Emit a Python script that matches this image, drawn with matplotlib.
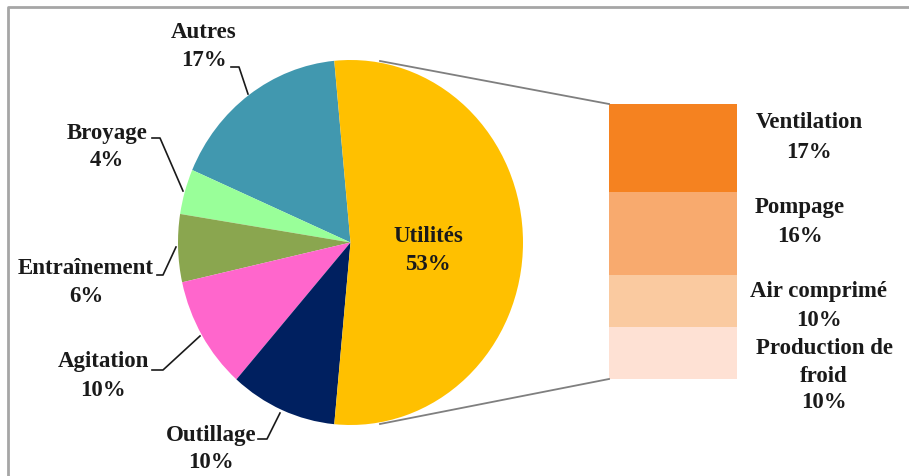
import matplotlib
matplotlib.use("Agg")
import matplotlib.pyplot as plt
import numpy as np

# ---- data ----
pie_labels = ["Utilités", "Outillage", "Agitation", "Entraînement", "Broyage", "Autres"]
pie_values = [53, 10, 10, 6, 4, 17]
pie_colors = ["#FFC000", "#002060", "#FF66CC", "#8AA64F", "#99FF99", "#4198AF"]

bar_labels = ["Ventilation", "Pompage", "Air comprimé", "Production de\nfroid"]
bar_values = [17, 16, 10, 10]
bar_colors = ["#F58220", "#F8AA6E", "#FACAA0", "#FEE1D4"]

W, H, DPI = 909, 476, 100
fig = plt.figure(figsize=(W / DPI, H / DPI), dpi=DPI)
FONT = dict(family="Liberation Serif", fontweight="bold", fontsize=16.5, color="#1a1a1a")

def fig_box(x0, y0, w, h):
    return [x0 / W, 1 - (y0 + h) / H, w / W, h / H]

# ---- pie (elliptical) ----
cx, cy, rx, ry = 350.5, 242.5, 172.5, 182.5
axp = fig.add_axes(fig_box(cx - rx, cy - ry, 2 * rx, 2 * ry))
start = pie_values[0] / 100 * 360 / 2
axp.pie(pie_values[::-1], colors=pie_colors[::-1],
        startangle=start, counterclock=True, radius=1,
        wedgeprops=dict(linewidth=0))
axp.set_aspect("auto")
axp.set_xlim(-1, 1)
axp.set_ylim(-1, 1)
axp.axis("off")

# ---- stacked bar ----
axb = fig.add_axes(fig_box(609, 104, 128, 275))
bottom = 0
for v, c in zip(bar_values, bar_colors):
    axb.bar(0, v, bottom=bottom, width=1, color=c, linewidth=0)
    bottom += v
axb.set_xlim(-0.5, 0.5)
axb.set_ylim(sum(bar_values), 0)
axb.axis("off")

# ---- overlay in pixel coordinates ----
ax = fig.add_axes([0, 0, 1, 1])
ax.set_xlim(0, W)
ax.set_ylim(H, 0)
ax.axis("off")
ax.patch.set_alpha(0)

# frame
ax.plot([7.5, 7.5, W], [H, 7, 7], color="#A6A6A6", lw=2, solid_capstyle="butt")

# connector lines
ax.plot([380, 609], [61, 104], color="#7F7F7F", lw=1.3)
ax.plot([380, 609], [424, 379], color="#7F7F7F", lw=1.3)

# pie labels
def two_line(x, y1, y2, name, pct):
    ax.text(x, y1, name, ha="center", va="center", **FONT)
    ax.text(x, y2, pct, ha="center", va="center", **FONT)

pct = {l: f"{v}%" for l, v in zip(pie_labels, pie_values)}
two_line(204, 32, 60, "Autres", pct["Autres"])
two_line(107, 133, 161, "Broyage", pct["Broyage"])
two_line(86, 268, 297, "Entraînement", pct["Entraînement"])
two_line(103, 362, 391, "Agitation", pct["Agitation"])
two_line(211, 435, 463, "Outillage", pct["Outillage"])
two_line(428, 236, 264, "Utilités", pct["Utilités"])

lc = dict(color="#1a1a1a", lw=1.2)
ax.plot([231, 239, 248], [67, 67, 94], **lc)
ax.plot([152, 160, 183], [138, 138, 191], **lc)
ax.plot([157, 163, 176], [275, 275, 247], **lc)
ax.plot([152, 163, 200], [370, 370, 336], **lc)
ax.plot([258, 267, 280], [439, 439, 413], **lc)

# bar labels
bar_text_pos = [(809, 122, 152), (800, 208, 237), (819, 292, 320)]
for (x, y1, y2), l, v in zip(bar_text_pos, bar_labels[:3], bar_values[:3]):
    two_line(x, y1, y2, l, f"{v}%")
ax.text(824, 348, "Production de", ha="center", va="center", **FONT)
ax.text(824, 376, "froid", ha="center", va="center", **FONT)
ax.text(824, 403, f"{bar_values[3]}%", ha="center", va="center", **FONT)

fig.savefig("out.png", dpi=DPI)
